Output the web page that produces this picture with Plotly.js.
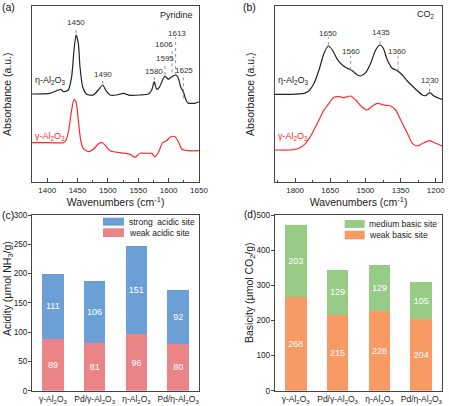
<!DOCTYPE html>
<html>
<head>
<meta charset="utf-8">
<script src="https://cdn.plot.ly/plotly-3.0.1.min.js"></script>
<style>html,body{margin:0;padding:0;background:#fff;}#chart{width:449px;height:406px;}</style>
</head>
<body>
<div id="chart"></div>
<script>
// ---------- DATA ----------
// (a) Pyridine-IR
const pyrWaveEta = [1375,1404.6,1418.4,1422.8,1426.6,1434.8,1440.3,1444.2,1447.5,1451.3,1454.0,1458.4,1465.0,1476.0,1484.2,1491.4,1496.9,1503.4,1514.4,1525.4,1536.4,1552.8,1566.6,1572.1,1576.4,1580.3,1584.7,1590.1,1594.0,1599.5,1605.0,1612.1,1616.0,1619.8,1624.2,1628.6,1632.4,1637.9,1643.4,1650];
const pyrEta = [0.883,0.890,0.923,0.930,0.906,0.923,1.056,1.323,1.473,1.390,1.156,0.956,0.880,0.873,0.923,0.973,0.916,0.873,0.873,0.890,0.870,0.873,0.883,0.923,1.006,0.930,0.950,1.023,1.063,1.030,1.056,1.073,1.040,0.956,0.906,0.823,0.790,0.790,0.790,0.806];
const pyrWaveGamma = [1375,1404.6,1426.6,1431.1,1435.5,1440.3,1444.2,1447.5,1451.3,1455.1,1459.5,1467.7,1476.0,1484.2,1489.7,1495.2,1503.4,1519.9,1536.4,1544.6,1552.8,1563.8,1572.1,1577.5,1583.0,1590.1,1596.7,1603.3,1610.5,1616.0,1622.0,1632.4,1650];
const pyrGamma = [0.396,0.396,0.396,0.423,0.523,0.723,0.830,0.806,0.623,0.423,0.340,0.306,0.330,0.383,0.400,0.373,0.316,0.296,0.280,0.250,0.290,0.290,0.290,0.256,0.296,0.396,0.416,0.456,0.456,0.406,0.330,0.316,0.316];
const pyrPeakLabels = ['1450','1490','1580','1595','1606','1613','1625'];
const pyrLabelX = [1447.5,1492,1576,1594,1592,1613,1626];
const pyrLabelY = [1.596,1.083,1.113,1.233,1.38,1.49,1.123];
const pyrLineX = [1447.5,1491.5,1576.4,1594,1605.6,1611.5,1624.2];
const pyrLineTop = [1.55,1.04,1.073,1.19,1.333,1.45,1.083];
const pyrLineBottom = [1.49,0.983,1.023,1.073,1.04,1.073,0.84];

// (b) CO2-IR
const co2WaveEta = [1887,1818.9,1762.0,1740.7,1719.3,1698.0,1676.7,1658.2,1641.1,1619.8,1598.5,1577.2,1555.8,1534.5,1520.3,1498.9,1477.6,1456.3,1437.8,1423.6,1406.5,1385.2,1363.9,1342.5,1321.2,1299.9,1278.5,1257.2,1243.0,1225.9,1207.4,1186.1,1171.9];
const co2Eta = [0.880,0.880,0.890,0.916,0.990,1.123,1.290,1.363,1.323,1.230,1.173,1.140,1.116,1.073,1.063,1.096,1.190,1.323,1.373,1.340,1.223,1.140,1.116,1.073,1.013,0.963,0.916,0.873,0.866,0.896,0.863,0.840,0.830];
const co2WaveGamma = [1887,1818.9,1783.3,1754.9,1733.6,1705.1,1676.7,1655.4,1634.0,1612.7,1591.4,1562.9,1541.6,1513.2,1491.8,1470.5,1449.2,1420.7,1392.3,1370.9,1349.6,1321.2,1299.9,1278.5,1250.1,1225.9,1200.3,1171.9];
const co2Gamma = [0.323,0.323,0.340,0.390,0.463,0.590,0.723,0.790,0.850,0.856,0.846,0.863,0.823,0.750,0.723,0.763,0.790,0.773,0.763,0.723,0.623,0.490,0.390,0.363,0.396,0.416,0.390,0.363];
const co2PeakLabels = ['1650','1560','1435','1360','1230'];
const co2LabelX = [1658,1563,1435,1364,1226];
const co2LabelY = [1.49,1.306,1.50,1.306,1.023];
const co2LineX = [1658,1563,1437,1361,1226];
const co2LineTop = [1.45,1.263,1.456,1.273,0.983];
const co2LineBottom = [1.373,1.123,1.383,1.116,0.906];

// (c)/(d) bars
const catalysts = ['γ-Al<sub>2</sub>O<sub>3</sub>','Pd/γ-Al<sub>2</sub>O<sub>3</sub>','η-Al<sub>2</sub>O<sub>3</sub>','Pd/η-Al<sub>2</sub>O<sub>3</sub>'];
const weakAcid = [89,81,96,80];
const strongAcid = [111,106,151,92];
const weakBase = [268,215,228,204];
const mediumBase = [203,129,129,105];
const acidNames = ['strong  acidic site','weak acidic site'];
const baseNames = ['medium basic site','weak basic site'];

// ---------- STYLE ----------
const FONT = 'Liberation Sans, Arial, sans-serif';
const BLACK = '#222222', RED = '#ff2a2a';
const C_STRONG = '#6b9fd6', C_WEAKA = '#eb8486', C_MED = '#98cc86', C_WEAKB = '#f79a63';
const W = 449, H = 406;
const px = v => v / W, py = v => 1 - v / H;

function lineTrace(x, y, color, xa, ya) {
  return {x, y, xaxis: xa, yaxis: ya, type: 'scatter', mode: 'lines',
    line: {color, width: 1.2, shape: 'spline', smoothing: 0.6}, hoverinfo: 'skip', showlegend: false};
}
function dotTrace(xs, tops, bots, xa, ya) {
  const x = [], y = [];
  xs.forEach((v, i) => { x.push(v, v, null); y.push(bots[i], tops[i], null); });
  return {x, y, xaxis: xa, yaxis: ya, type: 'scatter', mode: 'lines',
    line: {color: '#777', width: 0.8, dash: 'dot'}, hoverinfo: 'skip', showlegend: false};
}
function barTrace(vals, color, xa, ya) {
  return {x: catalysts, y: vals, xaxis: xa, yaxis: ya, type: 'bar',
    marker: {color, line: {width: 0}},
    text: vals.map(String), textposition: 'inside', insidetextanchor: 'middle',
    textangle: 0, constraintext: 'none',
    textfont: {color: '#ffffff', size: 9, family: FONT}, hoverinfo: 'skip', showlegend: false};
}

const data = [
  lineTrace(pyrWaveEta, pyrEta, BLACK, 'x', 'y'),
  lineTrace(pyrWaveGamma, pyrGamma, RED, 'x', 'y'),
  dotTrace(pyrLineX, pyrLineTop, pyrLineBottom, 'x', 'y'),
  lineTrace(co2WaveEta, co2Eta, BLACK, 'x2', 'y2'),
  lineTrace(co2WaveGamma, co2Gamma, RED, 'x2', 'y2'),
  dotTrace(co2LineX, co2LineTop, co2LineBottom, 'x2', 'y2'),
  barTrace(weakAcid, C_WEAKA, 'x3', 'y3'),
  barTrace(strongAcid, C_STRONG, 'x3', 'y3'),
  barTrace(weakBase, C_WEAKB, 'x4', 'y4'),
  barTrace(mediumBase, C_MED, 'x4', 'y4')
];

const frame = {showline: true, mirror: true, linecolor: '#444', linewidth: 1, showgrid: false, zeroline: false};
const specX = Object.assign({}, frame, {ticks: 'inside', ticklen: 4, tickcolor: '#444', tickwidth: 1,
  tickfont: {size: 8, color: '#222'},
  title: {text: 'Wavenumbers (cm<sup>-1</sup>)', font: {size: 10.5, color: '#222'}, standoff: 2}});
const specY = Object.assign({}, frame, {showticklabels: false, ticks: '',
  title: {text: 'Absorbance (a.u.)', font: {size: 10.5, color: '#222'}, standoff: 17}});
const barX = Object.assign({}, frame, {type: 'category', range: [-0.5, 3.5], ticks: '',
  tickfont: {size: 8.5, color: '#222'}});
const barY = Object.assign({}, frame, {ticks: 'outside', ticklen: 3, tickcolor: '#444',
  ticklabelstandoff: -1, tickfont: {size: 8.2, color: '#222'}});

const xDomL = [px(32), px(199)], xDomR = [px(274.7), px(442.3)];
const yDomT = [py(182.3), py(6)], yDomB = [py(390.7), py(215)];

const annotations = [];
function txt(x, y, t, xa, ya, opts) {
  annotations.push(Object.assign({x, y, text: t, xref: xa, yref: ya, showarrow: false,
    font: {size: 8, color: '#333', family: FONT}, xanchor: 'center', yanchor: 'middle'}, opts || {}));
}
pyrPeakLabels.forEach((t, i) => txt(pyrLabelX[i], pyrLabelY[i], t, 'x', 'y'));
co2PeakLabels.forEach((t, i) => txt(co2LabelX[i], co2LabelY[i], t, 'x2', 'y2'));
txt(1376, 1.016, 'η-Al<sub>2</sub>O<sub>3</sub>', 'x', 'y', {xanchor: 'left', font: {size: 9, color: BLACK, family: FONT}});
txt(1376, 0.456, 'γ-Al<sub>2</sub>O<sub>3</sub>', 'x', 'y', {xanchor: 'left', font: {size: 9, color: RED, family: FONT}});
txt(1643, 1.673, 'Pyridine', 'x', 'y', {xanchor: 'right', font: {size: 9, color: BLACK, family: FONT}});
txt(1883, 1.016, 'η-Al<sub>2</sub>O<sub>3</sub>', 'x2', 'y2', {xanchor: 'left', font: {size: 9, color: BLACK, family: FONT}});
txt(1883, 0.456, 'γ-Al<sub>2</sub>O<sub>3</sub>', 'x2', 'y2', {xanchor: 'left', font: {size: 9, color: RED, family: FONT}});
txt(1193, 1.673, 'CO<sub>2</sub>', 'x2', 'y2', {xanchor: 'right', font: {size: 9, color: BLACK, family: FONT}});
// bar y-axis titles (placed as rotated annotations to match reference offset)
txt(px(8), py(289), 'Acidity (μmol NH<sub>3</sub>/g)', 'paper', 'paper', {textangle: -90, font: {size: 10.5, color: '#222', family: FONT}});
txt(px(250), py(293), 'Basicity (μmol CO<sub>2</sub>/g)', 'paper', 'paper', {textangle: -90, font: {size: 10.5, color: '#222', family: FONT}});
// panel letters
const letterFont = {size: 10.5, color: '#111', family: FONT};
txt(0, py(7), '(a)', 'paper', 'paper', {xanchor: 'left', font: letterFont});
txt(px(240.5), py(7), '(b)', 'paper', 'paper', {xanchor: 'left', font: letterFont});
txt(0, py(215), '(c)', 'paper', 'paper', {xanchor: 'left', font: letterFont});
txt(px(241.5), py(215), '(d)', 'paper', 'paper', {xanchor: 'left', font: {size: 10, color: '#111', family: FONT}});

// manual legends
const shapes = [];
function legendItem(x0, x1, y0, y1, color, label) {
  shapes.push({type: 'rect', xref: 'paper', yref: 'paper', x0: px(x0), x1: px(x1), y0: py(y1), y1: py(y0),
    fillcolor: color, line: {width: 0}});
  txt(px(x1 + 2.5), py((y0 + y1) / 2), label, 'paper', 'paper', {xanchor: 'left', font: {size: 8.5, color: '#222', family: FONT}});
}
legendItem(103, 124, 217.7, 225.7, C_STRONG, acidNames[0]);
legendItem(103, 124, 228.3, 237, C_WEAKA, acidNames[1]);
legendItem(344.7, 364.7, 220, 228, C_MED, baseNames[0]);
legendItem(344.7, 364.7, 230.7, 239.3, C_WEAKB, baseNames[1]);

const layout = {
  width: W, height: H, margin: {l: 0, r: 0, t: 0, b: 0},
  paper_bgcolor: '#fff', plot_bgcolor: '#fff',
  font: {family: FONT, color: '#222'},
  showlegend: false, barmode: 'stack', bargap: 0.48,
  xaxis: Object.assign({}, specX, {domain: xDomL, anchor: 'y', range: [1375, 1650], tick0: 0, dtick: 50,
    minor: {dtick: 25, ticks: 'inside', ticklen: 2, tickcolor: '#444'}}),
  yaxis: Object.assign({}, specY, {domain: yDomT, anchor: 'x', range: [0, 1.763]}),
  xaxis2: Object.assign({}, specX, {domain: xDomR, anchor: 'y2', range: [1887, 1172], tick0: 0, dtick: 150,
    minor: {dtick: 75, ticks: 'inside', ticklen: 2, tickcolor: '#444'}}),
  yaxis2: Object.assign({}, specY, {domain: yDomT, anchor: 'x2', range: [0, 1.763]}),
  xaxis3: Object.assign({}, barX, {domain: xDomL, anchor: 'y3'}),
  yaxis3: Object.assign({}, barY, {domain: yDomB, anchor: 'x3', range: [0, 300], dtick: 50}),
  xaxis4: Object.assign({}, barX, {domain: xDomR, anchor: 'y4'}),
  yaxis4: Object.assign({}, barY, {domain: yDomB, anchor: 'x4', range: [0, 500], dtick: 100}),
  annotations, shapes
};

Plotly.newPlot('chart', data, layout, {staticPlot: true, displayModeBar: false});
</script>
</body>
</html>
